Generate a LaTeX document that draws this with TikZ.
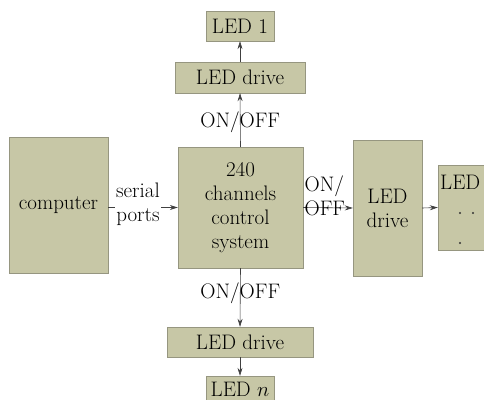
\documentclass[tikz,border=0pt]{standalone}
\usepackage{tikz}
\usepackage{xcolor}
\usetikzlibrary{calc, positioning, arrows.meta}
\definecolor{boxfill}{RGB}{199,199,166}
\definecolor{boxline}{RGB}{150,150,128}

\begin{document}
\begin{tikzpicture}[x=1pt, y=-1pt,
    font=\fontsize{21}{24}\selectfont,
    box/.style={draw=boxline, fill=boxfill, inner sep=0pt, align=center},
    link/.style={draw=black!75, line width=0.6pt, -{Stealth[length=8pt,width=5pt]}}]
            \useasboundingbox (0,0) rectangle (484,399);
            \clip (0,0) rectangle (484,399);
            % boxes
            \node[box, minimum width=68pt, minimum height=30pt] (led1) at (240,26) {LED 1};
            \node[box, minimum width=130pt, minimum height=31pt] (drvtop) at (240,77.5) {LED drive};
            \node[box, minimum width=125pt, minimum height=121pt] (ctrl) at (240.5,207.5) {240\\channels\\control\\system};
            \node[box, minimum width=99pt, minimum height=136pt] (comp) at (58.5,205.5) {computer};
            \node[box, minimum width=69pt, minimum height=136pt] (drvright) at (387.5,208) {LED\\drive};
            \node[box, minimum width=62pt, minimum height=85pt] (ledright) at (469,207.5) {};
            \node[anchor=west, inner sep=0pt] (ledtxt) at (440,182) {LED};
            \fill[black!80] (460,213) circle (1.1pt) (473,213) circle (1.1pt) (460,243) circle (1.1pt);
            \node[box, minimum width=146pt, minimum height=30pt] (drvbot) at (240,342) {LED drive};
            \node[box, minimum width=68pt, minimum height=26pt] (ledn) at (240,389) {LED $n$};
            % links
            \draw[link] (ctrl.north) -- node[pos=0.45, inner sep=0pt] (lbltop) {ON/OFF} (drvtop.south);
            \draw[link] (drvtop.north) -- (led1.south);
            \draw[link] (comp.east |- ctrl.west) -- (ctrl.west);
            \node[align=center, fill=white, inner sep=1pt] (serial) at (138,204) {serial\\ports};
            \draw[link] (ctrl.east) -- (drvright.west);
            \node[align=left, anchor=west, inner sep=0pt] (onoff) at (304.5,196) {ON/\\OFF};
            \draw[link] (drvright.east) -- (ledright.west);
            \draw[link] (ctrl.south) -- node[pos=0.42, inner sep=0pt] (lblbot) {ON/OFF} (drvbot.north);
            \draw[link] (drvbot.south) -- (ledn.north);
        \end{tikzpicture}
\end{document}
